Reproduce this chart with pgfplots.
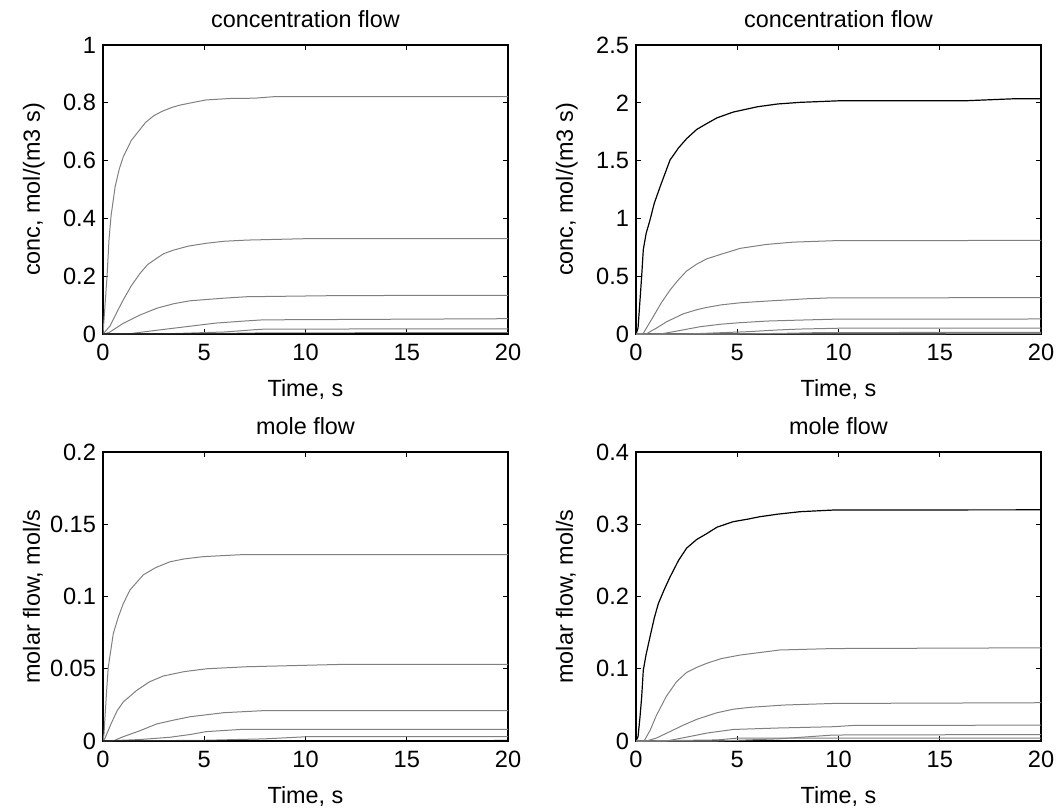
\documentclass[border=0pt]{standalone}
\usepackage{pgfplots}
\pgfplotsset{compat=1.18}
\usepackage{fontspec}
\setmainfont{Liberation Sans}
\definecolor{cg}{RGB}{128,128,128}
\pgfplotsset{
  every axis title shift=0pt,
  mstyle/.style={
    scale only axis, width=202.5pt, height=144.5pt,
    anchor=south west,
    xmin=0, xmax=20, xtick={0,5,10,15,20},
    tick align=inside, major tick length=2.5pt,
    xtick pos=both, ytick pos=both,
    axis line style={line width=0.8pt},
    every tick/.style={black, line width=0.6pt},
    /pgf/number format/assume math mode=true,
    tick label style={font=\fontsize{11.8}{14}\selectfont},
    xticklabel style={yshift=-1.5pt},
    label style={font=\fontsize{11.7}{14}\selectfont},
    title style={font=\fontsize{11.7}{14}\selectfont, at={(axis description cs:0.5,1.0606)}, anchor=base},
    xlabel style={at={(axis description cs:0.5,-0.2145)}, anchor=base},
    ylabel style={at={(axis description cs:-0.1556,0.5)}, anchor=base, rotate=0},
    xlabel={Time, s},
    clip=true,
  },
  gl/.style={cg, line width=0.5pt, mark=none},
  bl/.style={black, line width=0.6pt, mark=none},
}
\begin{document}
\begin{tikzpicture}
\useasboundingbox (0,0) rectangle (529.5pt,-405pt);
% ---------- top left ----------
\begin{axis}[mstyle, at={(51.5pt,-167pt)}, ymin=0, ymax=1,
  ytick={0,0.2,0.4,0.6,0.8,1}, yticklabels={0,0.2,0.4,0.6,0.8,1},
  title={concentration flow}, ylabel={conc, mol/(m3 s)}]
\addplot[gl] coordinates {(0,0) (0.1,0.1) (0.2,0.2) (0.3,0.33) (0.4,0.41) (0.6,0.51) (0.8,0.57) (1.0,0.613) (1.4,0.67) (1.83,0.708) (2.1,0.732) (2.5,0.755) (2.9,0.770) (3.4,0.784) (3.8,0.792) (4.5,0.802) (5.1,0.81) (6.3,0.815) (7.5,0.816) (8.4,0.821) (20,0.821)};
\addplot[gl] coordinates {(0,0) (0.35,0.028) (0.68,0.075) (1.0,0.118) (1.4,0.167) (1.83,0.21) (2.2,0.24) (2.65,0.262) (3.0,0.278) (3.47,0.29) (4.2,0.304) (5.1,0.314) (6,0.321) (7.1,0.325) (10.1,0.33) (20,0.33)};
\addplot[gl] coordinates {(0,0) (0.3,0.005) (1.0,0.037) (1.8,0.065) (2.65,0.089) (3.5,0.105) (4.3,0.115) (5.96,0.124) (7.1,0.129) (11.7,0.133) (20,0.134)};
\addplot[gl] coordinates {(0,0) (1.3,0.001) (2.65,0.013) (4.3,0.027) (5.6,0.038) (7.0,0.045) (7.9,0.049) (20,0.053)};
\addplot[gl] coordinates {(0,0) (3,0.0005) (4.6,0.004) (6,0.007) (7.5,0.015) (8,0.017) (20,0.018)};
\addplot[gl] coordinates {(0,0) (5,0.001) (8,0.004) (20,0.005)};
\addplot[bl] coordinates {(0,0) (20,0.0005)};
\end{axis}
% ---------- top right ----------
\begin{axis}[mstyle, at={(318pt,-167pt)}, ymin=0, ymax=2.5,
  ytick={0,0.5,1,1.5,2,2.5}, yticklabels={0,0.5,1,1.5,2,2.5},
  title={concentration flow}, ylabel={conc, mol/(m3 s)}]
\addplot[bl] coordinates {(0,0) (0.1,0.05) (0.2,0.3) (0.28,0.5) (0.36,0.73) (0.5,0.87) (0.69,0.986) (0.9,1.13) (1.19,1.274) (1.68,1.505) (2.1,1.61) (2.5,1.69) (3.0,1.77) (3.49,1.82) (4.0,1.87) (4.8,1.92) (6.0,1.966) (7.0,1.99) (8.1,2.004) (10.1,2.018) (16.3,2.018) (18.8,2.036) (20,2.036)};
\addplot[gl] coordinates {(0,0) (0.36,0.006) (0.85,0.15) (1.25,0.27) (1.68,0.38) (2.1,0.47) (2.5,0.545) (3.0,0.605) (3.49,0.65) (4.2,0.69) (4.8,0.722) (5.14,0.741) (6.45,0.775) (7.77,0.795) (9.75,0.807) (20,0.81)};
\addplot[gl] coordinates {(0,0) (0.5,0.0) (0.69,0.02) (1.0,0.05) (1.51,0.106) (2.34,0.175) (3.0,0.21) (3.49,0.23) (4.2,0.252) (5.14,0.27) (6.45,0.285) (7.5,0.295) (8.43,0.305) (9.5,0.312) (20,0.315)};
\addplot[gl] coordinates {(0,0) (1.2,0.0) (2,0.025) (3.16,0.063) (4.2,0.085) (5.14,0.098) (6.45,0.112) (8,0.12) (9.75,0.128) (20,0.13)};
\addplot[gl] coordinates {(0,0) (2.5,0.0) (4,0.01) (5.5,0.02) (7,0.035) (8.1,0.043) (10,0.05) (20,0.05)};
\addplot[gl] coordinates {(0,0) (5,0.0) (7,0.005) (9,0.012) (20,0.015)};
\addplot[gl] coordinates {(0,0) (7,0.001) (20,0.003)};
\end{axis}
% ---------- bottom left ----------
\begin{axis}[mstyle, at={(51.5pt,-370.5pt)}, ymin=0, ymax=0.2,
  ytick={0,0.05,0.1,0.15,0.2}, yticklabels={0,0.05,0.1,0.15,0.2},
  title={mole flow}, ylabel={molar flow, mol/s}]
\addplot[gl] coordinates {(0,0) (0.05,0.005) (0.1,0.017) (0.18,0.035) (0.26,0.051) (0.51,0.0745) (0.76,0.086) (1.0,0.095) (1.33,0.1045) (1.99,0.115) (2.6,0.12) (3.3,0.124) (4.0,0.126) (4.95,0.1276) (5.5,0.128) (6.9,0.129) (20,0.129)};
\addplot[gl] coordinates {(0,0) (0.1,0.002) (0.4,0.012) (0.7,0.021) (1.0,0.027) (1.66,0.035) (2.3,0.041) (2.98,0.045) (4.0,0.048) (5.12,0.050) (7.1,0.0514) (11.7,0.053) (20,0.053)};
\addplot[gl] coordinates {(0,0) (0.5,0.0) (1.0,0.003) (1.8,0.007) (2.65,0.0118) (3.5,0.0145) (4.3,0.0168) (5.96,0.0196) (7.9,0.021) (20,0.021)};
\addplot[gl] coordinates {(0,0) (1.8,0.001) (3.3,0.0026) (4.3,0.0045) (5.1,0.0065) (6.9,0.0081) (20,0.0081)};
\addplot[gl] coordinates {(0,0) (5,0.0005) (8,0.0015) (10.1,0.003) (20,0.003)};
\addplot[bl] coordinates {(0,0) (20,0.0003)};
\end{axis}
% ---------- bottom right ----------
\begin{axis}[mstyle, at={(318pt,-370.5pt)}, ymin=0, ymax=0.4,
  ytick={0,0.1,0.2,0.3,0.4}, yticklabels={0,0.1,0.2,0.3,0.4},
  title={mole flow}, ylabel={molar flow, mol/s}]
\addplot[bl] coordinates {(0,0) (0.1,0.006) (0.2,0.034) (0.28,0.061) (0.36,0.098) (0.5,0.12) (0.69,0.144) (0.9,0.17) (1.1,0.19) (1.4,0.21) (1.68,0.227) (2.1,0.25) (2.5,0.267) (3.0,0.279) (3.49,0.287) (4.0,0.296) (4.8,0.3036) (5.5,0.307) (6.12,0.3105) (7.0,0.314) (8.1,0.3174) (9.75,0.3197) (20,0.32)};
\addplot[gl] coordinates {(0,0) (0.4,0.0) (0.7,0.015) (1.0,0.035) (1.5,0.062) (2.0,0.082) (2.5,0.095) (3.0,0.102) (3.49,0.1075) (4.2,0.114) (5.14,0.119) (7.1,0.126) (9.75,0.128) (20,0.129)};
\addplot[gl] coordinates {(0,0) (0.5,0.0) (1.0,0.004) (1.6,0.012) (2.34,0.022) (3.0,0.03) (3.98,0.039) (4.8,0.044) (5.63,0.0466) (7.3,0.0498) (9.75,0.052) (20,0.053)};
\addplot[gl] coordinates {(0,0) (1.5,0.0) (2.34,0.0045) (3.5,0.011) (4.8,0.0160) (7,0.018) (9.75,0.0198) (10.7,0.0215) (20,0.022)};
\addplot[gl] coordinates {(0,0) (4,0.0) (7,0.003) (9.75,0.0083) (20,0.009)};
\addplot[gl] coordinates {(0,0) (4,0.0015) (5,0.004) (20,0.004)};
\end{axis}
\end{tikzpicture}
\end{document}
